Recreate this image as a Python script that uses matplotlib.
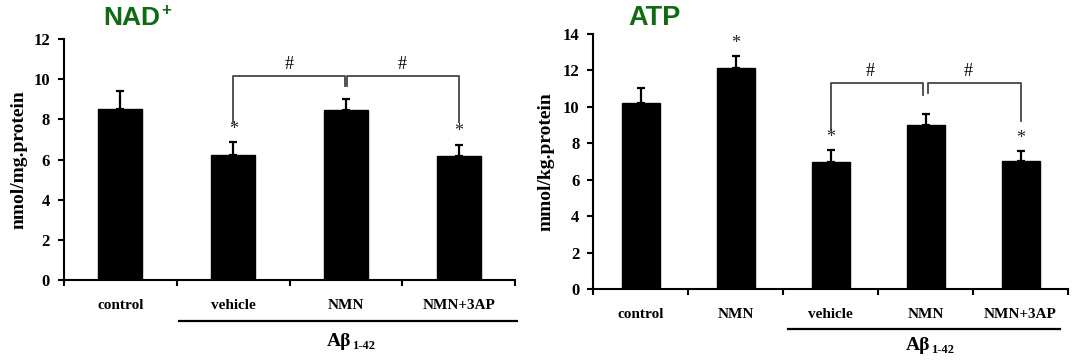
import matplotlib
matplotlib.use("Agg")
import matplotlib.pyplot as plt
import matplotlib.transforms as mtransforms

# NAD+ panel
nad_groups = ["control", "vehicle", "NMN", "NMN+3AP"]
nad_mean = [8.53, 6.21, 8.44, 6.16]
nad_err = [0.90, 0.66, 0.58, 0.58]
nad_star = [False, True, False, True]

# ATP panel
atp_groups = ["control", "NMN", "vehicle", "NMN", "NMN+3AP"]
atp_mean = [10.2, 12.14, 6.99, 9.0, 7.03]
atp_err = [0.82, 0.66, 0.64, 0.61, 0.57]
atp_star = [False, True, True, False, True]

serif = "Liberation Serif"
sans = "Liberation Sans"
green = "#0f6b0f"

fig = plt.figure(figsize=(10.8, 3.64), dpi=100)
ax1 = fig.add_axes([64 / 1080, 84 / 364, 451 / 1080, 241 / 364])
ax2 = fig.add_axes([593.3 / 1080, 75 / 364, 474.7 / 1080, 255 / 364])


def draw_panel(ax, groups, mean, err, star, ymax, width):
    n = len(groups)
    x = list(range(n))
    ax.bar(x, mean, width=width, color="black", edgecolor="black", zorder=2)
    ax.errorbar(x, mean, yerr=[[0] * n, err], fmt="none", ecolor="black",
                elinewidth=1.6, capsize=2.6, capthick=1.6, zorder=3)
    for i in range(n):
        if star[i]:
            ax.text(x[i], mean[i] + err[i] + 0.22, "*", ha="center", va="bottom",
                    fontsize=13, family=serif, color="#222222")
    ax.set_xlim(-0.5, n - 0.5)
    ax.set_ylim(0, ymax)
    ax.set_yticks(range(0, ymax + 1, 2))
    ax.set_xticks([i - 0.5 for i in range(n + 1)])
    ax.set_xticklabels([])
    ax.set_xticks(x, minor=True)
    ax.set_xticklabels(groups, minor=True)
    ax.tick_params(axis="x", which="major", direction="out", length=4, width=1.5)
    ax.tick_params(axis="x", which="minor", length=0, pad=14, labelsize=11)
    ax.tick_params(axis="y", direction="out", length=4, width=1.5, labelsize=12, pad=6)
    for lab in ax.get_xticklabels(minor=True) + ax.get_yticklabels():
        lab.set_family(serif)
        lab.set_fontweight("bold")
    for s in ["top", "right"]:
        ax.spines[s].set_visible(False)
    for s in ["left", "bottom"]:
        ax.spines[s].set_linewidth(1.5)


draw_panel(ax1, nad_groups, nad_mean, nad_err, nad_star, 12, 0.39)
draw_panel(ax2, atp_groups, atp_mean, atp_err, atp_star, 14, 0.40)

# NAD+ brackets
ax1.plot([1, 1, 1.99, 1.99], [7.86, 10.15, 10.15, 9.68], color="#444444", lw=1.3)
ax1.plot([2.01, 2.01, 3, 3], [9.68, 10.15, 10.15, 7.86], color="#444444", lw=1.3)
ax1.text(1.5, 10.3, "#", ha="center", va="bottom", fontsize=13, family=serif)
ax1.text(2.5, 10.3, "#", ha="center", va="bottom", fontsize=13, family=serif)

# ATP brackets
ax2.plot([2, 2, 2.97, 2.97], [8.73, 11.33, 11.33, 10.65], color="#444444", lw=1.3)
ax2.plot([3.03, 3.03, 4, 4], [10.74, 11.33, 11.33, 9.24], color="#444444", lw=1.3)
ax2.text(2.42, 11.5, "#", ha="center", va="bottom", fontsize=13, family=serif)
ax2.text(3.45, 11.5, "#", ha="center", va="bottom", fontsize=13, family=serif)

ax1.set_ylabel("nmol/mg.protein", family=serif, fontweight="bold", fontsize=14)
ax1.yaxis.set_label_coords(-0.08, 0.5)
ax2.set_ylabel("mmol/kg.protein", family=serif, fontweight="bold", fontsize=14)
ax2.yaxis.set_label_coords(-0.081, 0.5)

# A-beta group lines and labels
for ax, x0, x1, ly, ty, xc in [(ax1, 0.52, 3.52, -0.17, -0.255, 2),
                               (ax2, 1.55, 4.42, -0.157, -0.22, 3)]:
    tr = mtransforms.blended_transform_factory(ax.transData, ax.transAxes)
    ax.plot([x0, x1], [ly, ly], color="black", lw=1.6, transform=tr, clip_on=False)
    ax.text(xc + 0.05, ty, "Aβ", transform=tr, ha="right", va="center",
            family=serif, fontweight="bold", fontsize=14)
    ax.annotate("1-42", xy=(xc + 0.05, ty), xycoords=tr, xytext=(0.5, -3.5),
                textcoords="offset points", ha="left", va="center",
                family=serif, fontweight="bold", fontsize=9)

# Panel titles
fig.text(103 / 1080, 0.931, "NAD", family=sans, fontweight="bold", fontsize=19,
         color=green, va="baseline", ha="left")
fig.text(161 / 1080, 0.958, "+", family=sans, fontweight="bold", fontsize=12,
         color=green, va="baseline", ha="left")
fig.text(628 / 1080, 0.931, "ATP", family=sans, fontweight="bold", fontsize=19.5,
         color=green, va="baseline", ha="left")

fig.savefig("out.png", dpi=100)
